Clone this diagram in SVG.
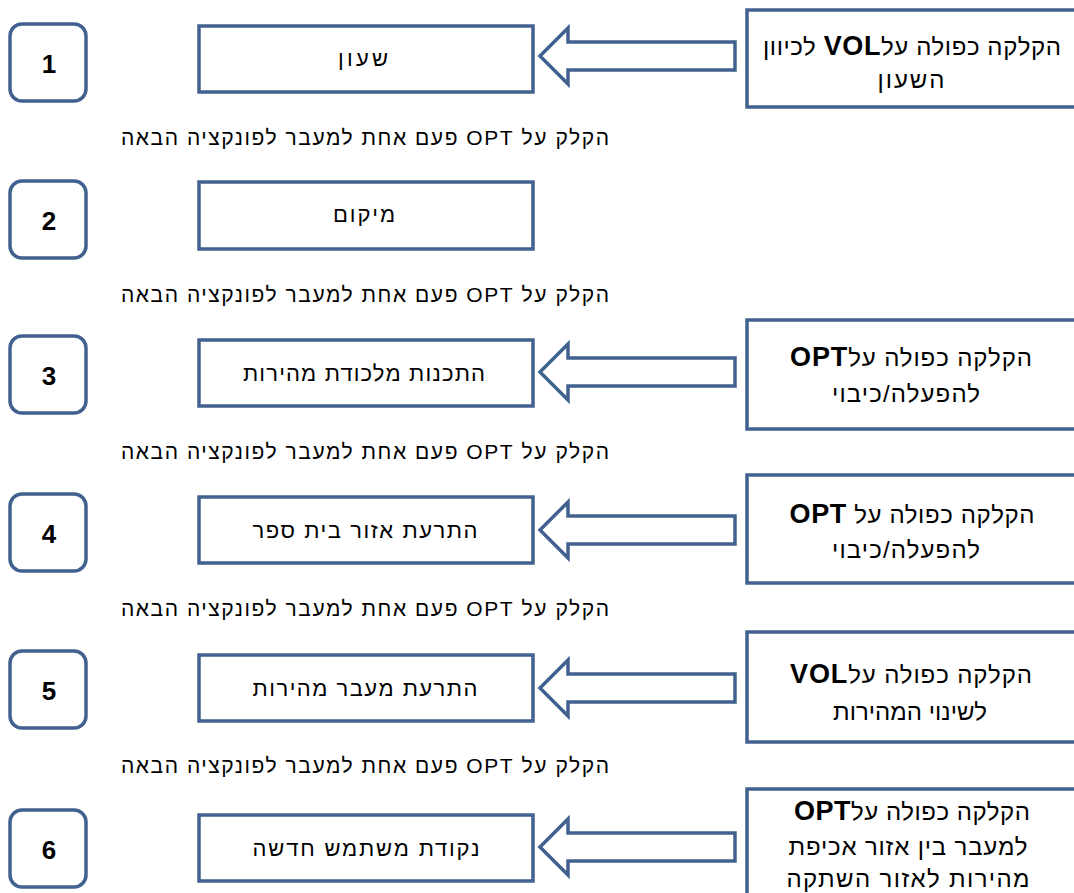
<svg xmlns="http://www.w3.org/2000/svg" width="1074" height="893" viewBox="0 0 1074 893">
<style>
.num{fill:#fff;stroke:#41628E;stroke-width:3.5}
.box{fill:#fff;stroke:#41628E;stroke-width:3.5}
.arr{fill:#fff;stroke:#41628E;stroke-width:3.5;stroke-linejoin:miter}
.dg{font-family:"Liberation Sans",Arial,sans-serif;font-weight:bold;font-size:26px;fill:#000;text-anchor:middle}
.ft{font-family:"Liberation Sans","DejaVu Sans",sans-serif;font-size:22px;fill:#000;text-anchor:middle;direction:rtl}
.st{font-family:"Liberation Sans","DejaVu Sans",sans-serif;font-size:21px;fill:#000;text-anchor:middle;direction:rtl}
.rt{font-family:"Liberation Sans","DejaVu Sans",sans-serif;font-size:24px;fill:#000;text-anchor:middle;direction:rtl}
.b{font-weight:bold;font-size:27px}
</style>
<defs>
<polygon id="arrow" class="arr" points="0,0 28,-28 28,-14 195,-14 195,14 28,14 28,28"/>
</defs>
<g id="connectors">
<use href="#arrow" x="540" y="56"/>
<use href="#arrow" x="540" y="372"/>
<use href="#arrow" x="540" y="530"/>
<use href="#arrow" x="540" y="688"/>
<use href="#arrow" x="540" y="847"/>
</g>
<g id="n1"><rect class="num" x="10" y="24" width="76" height="77" rx="12"/><text class="dg" x="49" y="73">1</text></g>
<g id="n2"><rect class="num" x="10" y="181" width="76" height="77" rx="12"/><text class="dg" x="49" y="230">2</text></g>
<g id="n3"><rect class="num" x="10" y="336" width="76" height="77" rx="12"/><text class="dg" x="49" y="385">3</text></g>
<g id="n4"><rect class="num" x="10" y="494" width="76" height="77" rx="12"/><text class="dg" x="49" y="543">4</text></g>
<g id="n5"><rect class="num" x="10" y="651" width="76" height="77" rx="12"/><text class="dg" x="49" y="700">5</text></g>
<g id="n6"><rect class="num" x="10" y="810" width="76" height="77" rx="12"/><text class="dg" x="49" y="859">6</text></g>

<g id="f1"><rect class="box" x="199" y="26" width="334" height="66"/><text class="ft" x="363" y="66" textLength="50" lengthAdjust="spacing">שעון</text></g>
<g id="f2"><rect class="box" x="199" y="182" width="334" height="67"/><text class="ft" x="364" y="222" textLength="62" lengthAdjust="spacing">מיקום</text></g>
<g id="f3"><rect class="box" x="199" y="340" width="334" height="66"/><text class="ft" x="364" y="381" textLength="242" lengthAdjust="spacing">התכנות מלכודת מהירות</text></g>
<g id="f4"><rect class="box" x="199" y="497" width="334" height="66"/><text class="ft" x="365" y="538" textLength="225" lengthAdjust="spacing">התרעת אזור בית ספר</text></g>
<g id="f5"><rect class="box" x="199" y="655" width="334" height="66"/><text class="ft" x="365" y="696" textLength="225" lengthAdjust="spacing">התרעת מעבר מהירות</text></g>
<g id="f6"><rect class="box" x="199" y="815" width="334" height="66"/><text class="ft" x="366" y="856" textLength="227" lengthAdjust="spacing">נקודת משתמש חדשה</text></g>

<g id="s1"><text class="st" x="365" y="145" textLength="488" lengthAdjust="spacing">הקלק על OPT פעם אחת למעבר לפונקציה הבאה</text></g>
<g id="s2"><text class="st" x="365" y="302" textLength="488" lengthAdjust="spacing">הקלק על OPT פעם אחת למעבר לפונקציה הבאה</text></g>
<g id="s3"><text class="st" x="365" y="459" textLength="488" lengthAdjust="spacing">הקלק על OPT פעם אחת למעבר לפונקציה הבאה</text></g>
<g id="s4"><text class="st" x="365" y="616" textLength="488" lengthAdjust="spacing">הקלק על OPT פעם אחת למעבר לפונקציה הבאה</text></g>
<g id="s5"><text class="st" x="365" y="773" textLength="488" lengthAdjust="spacing">הקלק על OPT פעם אחת למעבר לפונקציה הבאה</text></g>

<g id="r1"><rect class="box" x="747" y="10" width="340" height="97"/>
<text class="rt" x="912" y="55" textLength="298" lengthAdjust="spacing">הקלקה כפולה על<tspan class="b">VOL</tspan> לכיוון</text>
<text class="rt" x="911" y="88" textLength="67" lengthAdjust="spacing">השעון</text></g>
<g id="r3"><rect class="box" x="747" y="320" width="340" height="109"/>
<text class="rt" x="911" y="366" textLength="242" lengthAdjust="spacing">הקלקה כפולה על<tspan class="b">OPT</tspan></text>
<text class="rt" x="906" y="402" textLength="148" lengthAdjust="spacing">להפעלה/כיבוי</text></g>
<g id="r4"><rect class="box" x="747" y="475" width="340" height="108"/>
<text class="rt" x="912" y="523" textLength="245" lengthAdjust="spacing">הקלקה כפולה על <tspan class="b">OPT</tspan></text>
<text class="rt" x="906" y="558" textLength="148" lengthAdjust="spacing">להפעלה/כיבוי</text></g>
<g id="r5"><rect class="box" x="747" y="632" width="340" height="110"/>
<text class="rt" x="911" y="683" textLength="242" lengthAdjust="spacing">הקלקה כפולה על<tspan class="b">VOL</tspan></text>
<text class="rt" x="910" y="720" textLength="154" lengthAdjust="spacing">לשינוי המהירות</text></g>
<g id="r6"><rect class="box" x="747" y="789" width="340" height="120"/>
<text class="rt" x="912" y="820" textLength="236" lengthAdjust="spacing">הקלקה כפולה על<tspan class="b">OPT</tspan></text>
<text class="rt" x="908" y="855" textLength="239" lengthAdjust="spacing">למעבר בין אזור אכיפת</text>
<text class="rt" x="908" y="887" textLength="243" lengthAdjust="spacing">מהירות לאזור השתקה</text></g>
</svg>
